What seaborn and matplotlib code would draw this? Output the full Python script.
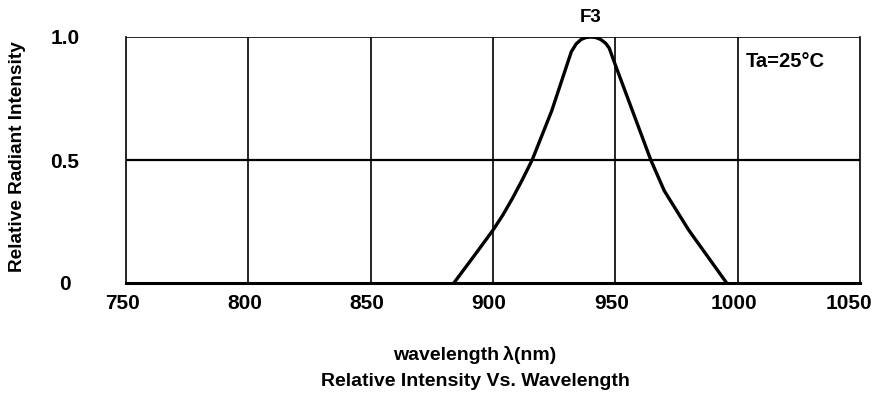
import pandas as pd
import matplotlib.pyplot as plt
import matplotlib.transforms as mtransforms
import seaborn as sns

# valori
wavelength = [884, 893, 900, 904, 908, 912, 916, 924, 932, 934, 936, 938, 940, 942, 944, 946, 947.5, 949.5, 957, 964.5, 970, 980, 995.5]
intensity = [0.0, 0.12, 0.215, 0.276, 0.345, 0.42, 0.5, 0.70, 0.94, 0.972, 0.99, 0.998, 1.0, 0.998, 0.99, 0.975, 0.955, 0.90, 0.70, 0.50, 0.375, 0.215, 0.0]
x_ticks = [750, 800, 850, 900, 950, 1000, 1050]
y_ticks = [0, 0.5, 1.0]
y_labels = ["0", "0.5", "1.0"]

df = pd.DataFrame({"wavelength": wavelength, "intensity": intensity})

sns.set_style("white")
plt.rcParams['font.family'] = ['Liberation Sans', 'DejaVu Sans']
plt.rcParams['font.weight'] = 'bold'
plt.rcParams['text.color'] = 'black'
plt.rcParams['axes.labelcolor'] = 'black'
plt.rcParams['xtick.color'] = 'black'
plt.rcParams['ytick.color'] = 'black'

fig = plt.figure(figsize=(8.77, 4.0), dpi=100)
ax = fig.add_axes([0.1437, 0.2925, 0.8369, 0.615])

# griglia
for xv in x_ticks[1:-1]:
    ax.axvline(xv, color='black', lw=1.2, zorder=1)
ax.axhline(0.5, color='black', lw=1.6, zorder=1)
ax.axhline(1.0, color='black', lw=1.2, zorder=1)

sns.lineplot(data=df, x="wavelength", y="intensity", color='black', lw=2.4, ax=ax, zorder=3)

ax.set_xlim(750, 1050)
ax.set_ylim(0, 1.0)
ax.set_xticks(x_ticks)
ax.set_yticks(y_ticks)
ax.set_yticklabels(y_labels)
ax.tick_params(axis='both', length=0, labelsize=15, colors='black')
ax.tick_params(axis='x', pad=8)
ax.tick_params(axis='y', pad=44)
for lab in ax.get_yticklabels():
    lab.set_horizontalalignment('center')
for lab in ax.get_xticklabels() + ax.get_yticklabels():
    lab.set_fontweight('bold')

# etichette x leggermente spostate a sinistra come nell'originale
xlabs = ax.get_xticklabels()
for i, lab in enumerate(xlabs):
    dx = -11 if i == len(xlabs) - 1 else -4
    lab.set_transform(lab.get_transform() + mtransforms.ScaledTranslation(dx / 100, 0, fig.dpi_scale_trans))

ax.spines['top'].set_visible(False)
ax.spines['left'].set_linewidth(1.2)
ax.spines['right'].set_linewidth(1.2)
ax.spines['bottom'].set_linewidth(2.2)
for s in ax.spines.values():
    s.set_color('black')

ax.set_xlabel("")
ax.set_ylabel("Relative Radiant Intensity", fontsize=13.7, fontweight='bold', color='black')
ax.yaxis.set_label_coords(-0.136, 0.515)

ax.text(940, 1.045, "F3", ha='center', va='bottom', fontsize=13.5, fontweight='bold')
ax.text(1003.5, 0.90, "Ta=25°C", ha='left', va='center', fontsize=14.5, fontweight='bold')

fig.text(475 / 877, 1 - 355 / 400, "wavelength\u2009λ(nm)", ha='center', va='center', fontsize=14, fontweight='bold',
         family=['Liberation Sans', 'DejaVu Sans'])
fig.text(475 / 877, 1 - 381 / 400, "Relative Intensity Vs. Wavelength", ha='center', va='center', fontsize=14,
         fontweight='bold')

fig.savefig("out.png", dpi=100)
